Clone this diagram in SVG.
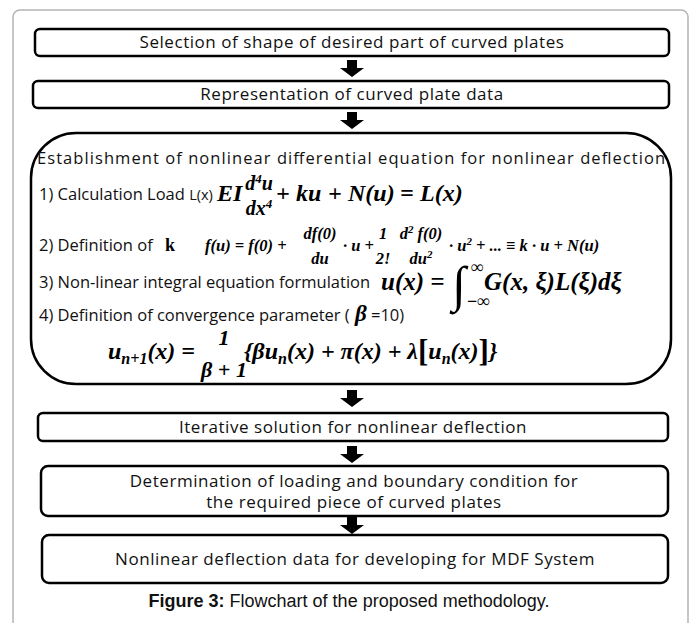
<svg xmlns="http://www.w3.org/2000/svg" width="692" height="623" viewBox="0 0 692 623">
<style>
.box{fill:#fff;stroke:#000;stroke-width:2.5}
.t{font-family:"Open Sans","Noto Sans",sans-serif;font-size:17px;letter-spacing:0.55px;fill:#111}
.n{font-family:"Open Sans","Noto Sans",sans-serif;font-size:16.5px;fill:#111}
.c{text-anchor:middle}
.m{font-family:"Liberation Serif","Times New Roman",serif;font-weight:bold;font-style:italic;fill:#000}
.mu{font-family:"Liberation Serif","Times New Roman",serif;font-weight:bold;fill:#000}
.cap{font-family:"Liberation Sans",Arial,sans-serif;font-size:18px;fill:#111}
</style>
<defs>
<path id="arr" d="M-5,0 h10 v8 h7 l-12,9 l-12,-9 h7 z" fill="#000"/>
</defs>
<rect x="0" y="0" width="692" height="623" fill="#fff"/>
<rect x="13" y="10" width="675" height="640" rx="7" fill="#fff" stroke="#b4b4b4" stroke-width="1.5"/>

<g id="connectors">
<use href="#arr" x="352" y="60"/>
<use href="#arr" x="352" y="112"/>
<use href="#arr" x="352" y="390"/>
<use href="#arr" x="352" y="446"/>
<use href="#arr" x="352" y="517"/>
</g>

<g id="n1">
<rect class="box" x="35" y="29" width="634" height="27" rx="5"/>
<text class="t c" x="352" y="48">Selection of shape of desired part of curved plates</text>
</g>

<g id="n2">
<rect class="box" x="33" y="81" width="636" height="27" rx="5"/>
<text class="t c" x="352" y="100">Representation of curved plate data</text>
</g>

<g id="n3">
<rect class="box" x="31" y="133" width="640" height="251" rx="45"/>
<text class="n" x="37" y="164" textLength="628">Establishment of nonlinear differential equation for nonlinear deflection</text>
<text class="n" x="39" y="200">1) Calculation Load <tspan font-size="14.5">L(x)</tspan></text>
<text class="m" x="217" y="201" font-size="24">EI</text>
<text class="m" x="259" y="190" font-size="20" text-anchor="middle">d<tspan font-size="13" dy="-7">4</tspan><tspan dy="7">u</tspan></text>
<text class="m" x="259" y="215" font-size="20" text-anchor="middle">dx<tspan font-size="13" dy="-7">4</tspan></text>
<g class="m" font-size="24">
<text x="276" y="201">+</text>
<text x="296" y="201">ku</text>
<text x="328" y="201">+</text>
<text x="348" y="201">N(u)</text>
<text x="400" y="201">=</text>
<text x="420" y="201">L(x)</text>
</g>

<text class="n" x="39" y="251">2) Definition of</text>
<text class="mu" x="165" y="251" font-size="18" font-family="Open Sans,sans-serif">k</text>
<text class="m" x="205" y="251" font-size="16.5">f(u) = f(0) +</text>
<text class="m" x="320" y="239" font-size="16.5" text-anchor="middle">df(0)</text>
<text class="m" x="320" y="264" font-size="16.5" text-anchor="middle">du</text>
<text class="m" x="343" y="251" font-size="16.5">· u +</text>
<text class="m" x="383" y="239" font-size="16.5" text-anchor="middle">1</text>
<text class="m" x="383" y="264" font-size="16.5" text-anchor="middle">2!</text>
<text class="m" x="421" y="239" font-size="16.5" text-anchor="middle">d<tspan font-size="11" dy="-6">2</tspan><tspan dy="6"> f(0)</tspan></text>
<text class="m" x="421" y="264" font-size="16.5" text-anchor="middle">du<tspan font-size="11" dy="-6">2</tspan></text>
<text class="m" x="449" y="251" font-size="16.5">· u<tspan font-size="11" dy="-6">2</tspan><tspan dy="6"> + ... ≡ k · u + N(u)</tspan></text>

<text class="n" x="39" y="288">3) Non-linear integral equation formulation</text>
<text class="m" x="381" y="290" font-size="25">u(x) =</text>
<text class="mu" x="452" y="301" font-size="50" font-weight="normal">∫</text>
<text class="mu" x="471" y="273" font-size="18">∞</text>
<text class="mu" x="467" y="307" font-size="18">−∞</text>
<text class="m" x="484" y="290" font-size="25">G(x, ξ)L(ξ)dξ</text>

<text class="n" x="39" y="321">4) Definition of convergence parameter (</text>
<text class="m" x="355" y="321" font-size="23">β</text>
<text class="n" x="371" y="321">=10)</text>

<text class="m" x="108" y="359" font-size="24">u<tspan font-size="16" dy="5">n+1</tspan><tspan dy="-5">(x) =</tspan></text>
<text class="m" x="224" y="345" font-size="22" text-anchor="middle">1</text>
<text class="m" x="224" y="377" font-size="22" text-anchor="middle">β + 1</text>
<text class="m" x="244" y="359" font-size="24">{βu<tspan font-size="16" dy="5">n</tspan><tspan dy="-5">(x) + π(x) + λ</tspan><tspan font-size="31" font-style="normal" dy="2">[</tspan><tspan dy="-2">u</tspan><tspan font-size="16" dy="5">n</tspan><tspan dy="-5">(x)</tspan><tspan font-size="31" font-style="normal" dy="2">]</tspan><tspan dy="-2">}</tspan></text>
</g>

<g id="n4">
<rect class="box" x="38" y="413" width="630" height="28" rx="5"/>
<text class="t c" x="353" y="433">Iterative solution for nonlinear deflection</text>
</g>

<g id="n5">
<rect class="box" x="41" y="466" width="627" height="50" rx="7"/>
<text class="t c" x="354" y="487">Determination of loading and boundary condition for</text>
<text class="t c" x="354" y="508">the required piece of curved plates</text>
</g>

<g id="n6">
<rect class="box" x="42" y="535" width="626" height="48" rx="7"/>
<text class="t c" x="355" y="565">Nonlinear deflection data for developing for MDF System</text>
</g>

<text class="cap c" x="349" y="607"><tspan font-weight="bold">Figure 3:</tspan> Flowchart of the proposed methodology.</text>
</svg>
